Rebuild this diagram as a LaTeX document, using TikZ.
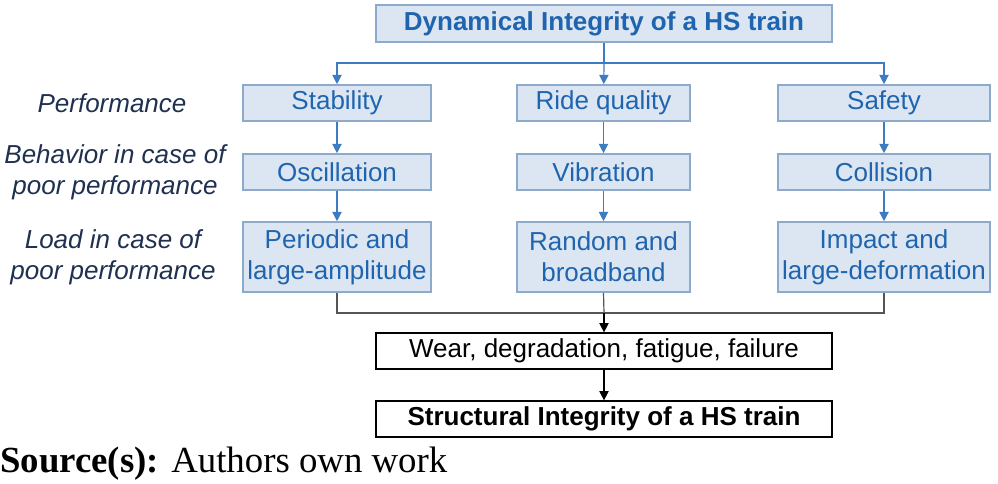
\documentclass[tikz,border=0pt]{standalone}
\usetikzlibrary{arrows.meta}
\usepackage{fontspec}
\setmainfont{Liberation Sans}
\newfontfamily\timesf{Liberation Serif}
\definecolor{bfill}{HTML}{DCE6F2}
\definecolor{bdraw}{HTML}{8EAACB}
\definecolor{btext}{HTML}{1F64AE}
\definecolor{barrow}{HTML}{3D7CC0}
\definecolor{ltext}{HTML}{1F3050}
\definecolor{glines}{HTML}{555555}
\begin{document}
\begin{tikzpicture}[x=0.75pt,y=-0.75pt,
 bbox/.style={draw=bdraw,fill=bfill,line width=1.2pt,text=btext,font=\fontsize{19.5}{23.5}\selectfont,align=center,inner sep=0pt},
 wbox/.style={draw=black,fill=white,line width=0.9pt,font=\fontsize{19.5}{23.5}\selectfont,align=center,inner sep=0pt},
 lab/.style={text=ltext,font=\fontsize{19.5}{23.5}\itshape\selectfont,align=center},
 arr/.style={draw=barrow,line width=0.9pt,-{Triangle[length=7pt,width=7pt]}},
 gl/.style={draw=glines,line width=0.9pt}]
\useasboundingbox (0,0) rectangle (998,484);
\node[bbox,minimum width=456*0.75pt,minimum height=37*0.75pt,font=\fontsize{19.5}{23.5}\bfseries\selectfont] (top) at (604,23.5) {Dynamical Integrity of a HS train};
\foreach \n/\x/\w/\a/\b/\c in {s/337/188/Stability/Oscillation/{Periodic and\\large-amplitude},r/603.5/173/Ride quality/Vibration/{Random and\\broadband},f/884/212/Safety/Collision/{Impact and\\large-deformation}}{
 \node[bbox,minimum width=\w*0.75pt,minimum height=36*0.75pt] (\n1) at (\x,103) {\a};
 \node[bbox,minimum width=\w*0.75pt,minimum height=36*0.75pt] (\n2) at (\x,172) {\b};
 \node[bbox,minimum width=\w*0.75pt,minimum height=70*0.75pt] (\n3) at (\x,257) {\c};
 \draw[arr] (\n1) -- (\n2);
 \draw[arr] (\n2) -- (\n3);
}
\node[lab] (l1) at (112,103) {Performance};
\node[lab] (l2) at (115,172) {Behavior in case of\\poor performance};
\node[lab] (l3) at (113,257) {Load in case of\\poor performance};
\node[wbox,minimum width=456*0.75pt,minimum height=36*0.75pt] (wear) at (604,351) {Wear, degradation, fatigue, failure};
\node[wbox,minimum width=456*0.75pt,minimum height=36*0.75pt,font=\fontsize{19.5}{23.5}\bfseries\selectfont] (str) at (604,419) {Structural Integrity of a HS train};
\coordinate (j1) at (604,63);
\coordinate (j2) at (604,313);
\draw[draw=barrow,line width=0.9pt] (top.south) -- (j1);
\draw[arr] (j1) -- (r1);
\draw[arr] (j1) -| (s1);
\draw[arr] (j1) -| (f1);
\draw[gl] (s3.south) |- (j2) -| (f3.south);
\draw[gl] (r3.south) -- (j2);
\draw[gl,-{Triangle[length=7pt,width=7pt]},draw=black] (j2) -- (wear);
\draw[line width=0.9pt,-{Triangle[length=7pt,width=7pt]}] (wear) -- (str);
\node[anchor=base west,inner sep=0pt,font=\timesf\fontsize{27.6}{30}\selectfont] (src) at (0,472) {\textbf{Source(s):} Authors own work};
\end{tikzpicture}
\end{document}
